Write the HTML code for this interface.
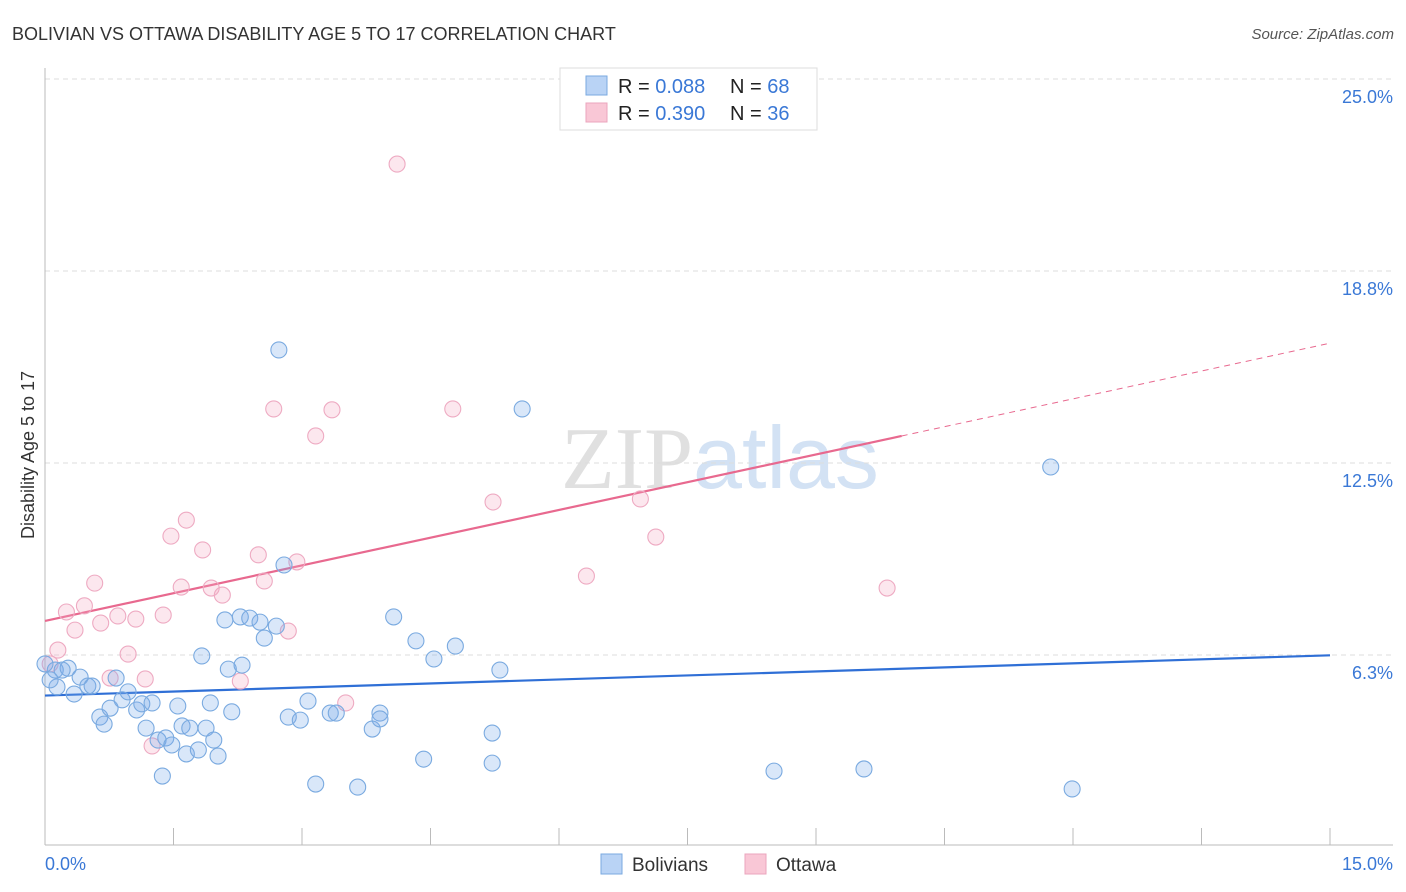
<!DOCTYPE html>
<html><head><meta charset="utf-8"><style>
body{margin:0;background:#fff;font-family:"Liberation Sans",sans-serif;}
svg{display:block}
</style></head><body>
<svg id="chart" width="1406" height="892">
<text x="12" y="40" font-size="18" fill="#333">BOLIVIAN VS OTTAWA DISABILITY AGE 5 TO 17 CORRELATION CHART</text>
<text x="1394" y="39" font-size="15" fill="#555" font-style="italic" text-anchor="end">Source: ZipAtlas.com</text>
<text x="720" y="488" font-size="88" text-anchor="middle"><tspan fill="#e0e0e0" font-family="Liberation Serif">ZIP</tspan><tspan fill="#d3e2f4">atlas</tspan></text>
<text transform="translate(34,455) rotate(-90)" font-size="18" fill="#333" text-anchor="middle">Disability Age 5 to 17</text>
<g id="grid"></g><g id="axes"></g><g id="lines"></g><g id="pts"></g>
<g>
<rect x="560" y="68" width="257" height="62" fill="#fff" stroke="#ddd"/>
<rect x="586" y="76" width="21" height="19" fill="#b9d3f5" stroke="#7aaae0"/>
<rect x="586" y="103" width="21" height="19" fill="#f9c7d6" stroke="#eba5bd"/>
<text x="618" y="93" font-size="20" fill="#222">R = <tspan fill="#3a78d6">0.088</tspan><tspan x="730">N = </tspan><tspan fill="#3a78d6">68</tspan></text>
<text x="618" y="120" font-size="20" fill="#222">R = <tspan fill="#3a78d6">0.390</tspan><tspan x="730">N = </tspan><tspan fill="#3a78d6">36</tspan></text>
</g>
<g>
<rect x="601" y="854" width="21" height="20" fill="#b9d3f5" stroke="#7aaae0"/>
<text x="632" y="871" font-size="19" fill="#333">Bolivians</text>
<rect x="745" y="854" width="21" height="20" fill="#f9c7d6" stroke="#eba5bd"/>
<text x="776" y="871" font-size="19" fill="#333">Ottawa</text>
</g>
</svg>
<script>
const yTicks=[25,18.75,12.5,6.25];
const yTickLabels=["25.0%","18.8%","12.5%","6.3%"];
const xTickLabels=["0.0%","15.0%"];
const blueX=[0.12,0.14,0.06,0.27,0.20,0.34,0.41,0.50,0.55,0.64,0.69,0.76,0.83,0.90,0.97,1.07,1.13,1.18,1.25,1.32,1.37,1.41,1.48,1.55,1.60,1.65,1.69,1.79,1.88,1.93,1.97,2.02,2.10,1.83,2.18,2.14,2.28,2.30,2.39,2.51,2.56,2.70,2.73,2.79,2.84,2.98,3.07,3.16,3.33,3.40,3.65,3.82,3.91,3.91,4.07,4.33,4.42,4.54,4.79,5.22,5.22,5.31,5.57,8.51,9.56,11.74,11.99,0.0];
const blueY=[5.76,5.21,5.44,5.82,5.76,4.98,5.53,5.24,5.24,4.23,4.00,4.52,5.50,4.79,5.05,4.46,4.66,3.87,4.69,3.48,2.31,3.55,3.32,4.59,3.94,3.03,3.87,3.16,3.87,4.69,3.48,2.96,7.39,6.22,4.40,5.79,7.49,5.92,7.45,7.32,6.80,7.19,16.18,9.18,4.23,4.13,4.75,2.05,4.36,4.36,1.95,3.84,4.36,4.17,7.49,6.71,2.86,6.12,6.54,3.71,2.73,5.76,14.26,2.47,2.54,12.37,1.89,5.96];
const pinkX=[0.06,0.15,0.25,0.35,0.46,0.58,0.65,0.76,0.85,0.97,1.06,1.17,1.25,1.38,1.47,1.59,1.65,1.84,1.94,2.07,2.28,2.49,2.56,2.67,2.84,2.94,3.16,3.35,3.51,4.11,4.76,5.23,6.32,6.95,7.13,9.83];
const pinkY=[5.96,6.41,7.65,7.06,7.85,8.59,7.29,5.50,7.52,6.28,7.42,5.47,3.29,7.55,10.12,8.46,10.64,9.67,8.43,8.20,5.40,9.51,8.66,14.26,7.03,9.28,13.38,14.23,4.69,22.23,14.26,11.23,8.82,11.33,10.09,8.43];
const blueTrend=[4.93,6.24];
const pinkTrend=[7.36,13.38,16.40];
const NS="http://www.w3.org/2000/svg";
const X=v=>45+v*(1285/15), Y=v=>79+(25-v)*30.72;
function mk(t,a,p){const e=document.createElementNS(NS,t);for(const k in a)e.setAttribute(k,a[k]);document.getElementById(p).appendChild(e);return e;}
yTicks.forEach((v,i)=>{
 const l=mk('line',{x1:45,x2:1393,y1:Y(v),y2:Y(v),stroke:'#ddd','stroke-dasharray':'5,4'},'grid');
 
 
 const t=mk('text',{x:1393,y:Y(v)+24,'font-size':18,fill:'#3a78d6','text-anchor':'end'},'axes');
 t.textContent=yTickLabels[i];
 
 
});
const ax=mk('line',{x1:45,x2:1393,y1:845,y2:845,stroke:'#bbb'},'axes');


const ay=mk('line',{x1:45,x2:45,y1:68,y2:845,stroke:'#bbb'},'axes');


for(let i=1;i<=10;i++){const t=mk('line',{x1:X(i*1.5),x2:X(i*1.5),y1:828,y2:845,stroke:'#bbb'},'axes');
 
 }
[[0,'start',45],[1,'end',1393]].forEach(([i,a,x])=>{const t=mk('text',{x:x,y:870,'font-size':18,fill:'#3a78d6','text-anchor':a},'axes');t.textContent=xTickLabels[i];
 
 });
function pts(xs,ys,fill,stroke,name){xs.forEach((x,i)=>{const c=mk('circle',{cx:X(x),cy:Y(ys[i]),r:8,fill:fill,stroke:stroke,'stroke-width':1.1},'pts');
 
 });}
pts(pinkX,pinkY,'rgba(244,170,195,0.28)','#eeaac2','ottawa-point');
pts(blueX,blueY,'rgba(120,170,235,0.28)','#7aaae0','bolivian-point');
const bl=mk('line',{x1:X(0),y1:Y(blueTrend[0]),x2:X(15),y2:Y(blueTrend[1]),stroke:'#2f6fd6','stroke-width':2.2},'lines');


const pl=mk('line',{x1:X(0),y1:Y(pinkTrend[0]),x2:X(10),y2:Y(pinkTrend[1]),stroke:'#e8698f','stroke-width':2.2},'lines');


const pd=mk('line',{x1:X(10),y1:Y(pinkTrend[1]),x2:X(15),y2:Y(pinkTrend[2]),stroke:'#e8698f','stroke-width':1,'stroke-dasharray':'6,5'},'lines');


</script>
</body></html>
